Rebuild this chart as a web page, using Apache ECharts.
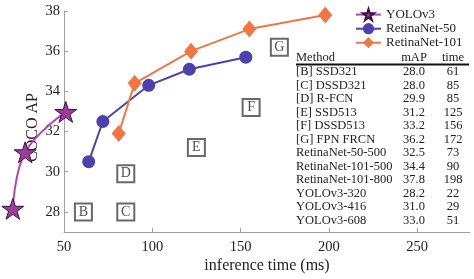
<!DOCTYPE html>
<html>
<head>
<meta charset="utf-8">
<script src="https://cdn.jsdelivr.net/npm/echarts@6/dist/echarts.min.js"></script>
<style>
  html, body {margin: 0; padding: 0; background: #fff;}
  #chart {width: 474px; height: 279px;}
</style>
</head>
<body>
<div id="chart"></div>
<script>
  // curves (inference time ms, COCO AP)
  let yoloTime = [21, 28, 51]
  let yoloAP = [28.2, 31.0, 33.0]
  let rn50Time = [64, 72, 98, 121, 153]
  let rn50AP = [30.5, 32.5, 34.3, 35.1, 35.7]
  let rn101Time = [81, 90, 122, 155, 198]
  let rn101AP = [31.9, 34.4, 36.0, 37.1, 37.8]

  // table on the right, first six rows also drawn as lettered boxes
  let methodNames = ['[B] SSD321', '[C] DSSD321', '[D] R-FCN', '[E] SSD513', '[F] DSSD513', '[G] FPN FRCN',
    'RetinaNet-50-500', 'RetinaNet-101-500', 'RetinaNet-101-800', 'YOLOv3-320', 'YOLOv3-416', 'YOLOv3-608']
  let methodAP = ['28.0', '28.0', '29.9', '31.2', '33.2', '36.2', '32.5', '34.4', '37.8', '28.2', '31.0', '33.0']
  let methodTime = ['61', '85', '85', '125', '156', '172', '73', '90', '198', '22', '29', '51']
  let boxCount = 6

  let xTicks = [50, 100, 150, 200, 250]
  let yTicks = [28, 30, 32, 34, 36, 38]

  let serif = "'Liberation Serif', 'Times New Roman', serif"
  let starPath = 'path://M50 0 L61.23 34.55 L97.55 34.55 L68.17 55.9 L79.39 90.45 L50 69.1 L20.61 90.45 L31.83 55.9 L2.45 34.55 L38.77 34.55 Z'

  function pairs(xs, ys) {
    return xs.map((x, i) => [x, ys[i]])
  }

  let boxData = []
  for (let i = 0; i < boxCount; i++) {
    boxData.push({
      value: [Number(methodTime[i]), Number(methodAP[i])],
      letter: methodNames[i].charAt(1)
    })
  }

  // table texts
  let tableGraphics = []
  let colMethod = 296, colAP = 414, colTime = 453
  let headY = 58, rowY = 72, rowStep = 13.5
  let headStyle = {fontSize: 12.5, fontFamily: serif, fill: '#222', verticalAlign: 'middle'}
  tableGraphics.push({type: 'text', x: colMethod, y: headY, style: Object.assign({text: 'Method', align: 'left'}, headStyle)})
  tableGraphics.push({type: 'text', x: colAP, y: headY, style: Object.assign({text: 'mAP', align: 'center'}, headStyle)})
  tableGraphics.push({type: 'text', x: colTime, y: headY, style: Object.assign({text: 'time', align: 'center'}, headStyle)})
  tableGraphics.push({
    type: 'line',
    shape: {x1: colMethod, y1: headY + 6.5, x2: 469, y2: headY + 6.5},
    style: {stroke: '#111', lineWidth: 2}
  })
  methodNames.forEach((name, i) => {
    let y = rowY + i * rowStep
    tableGraphics.push({type: 'text', x: colMethod, y: y, style: Object.assign({text: name, align: 'left'}, headStyle)})
    tableGraphics.push({type: 'text', x: colAP, y: y, style: Object.assign({text: methodAP[i], align: 'center'}, headStyle)})
    tableGraphics.push({type: 'text', x: colTime, y: y, style: Object.assign({text: methodTime[i], align: 'center'}, headStyle)})
  })

  // the YOLOv3 points lie left of the y axis (x < 50), so they get a second,
  // hidden grid reaching the left edge with the same ms-per-pixel scale
  let chartW = 474
  let gridLeft = 64, gridRight = 4, gridTop = 11, gridBottom = 46
  let xMin = 50, xMax = 280
  let msPerPx = (xMax - xMin) / (chartW - gridLeft - gridRight)
  let xMinWide = xMin - gridLeft * msPerPx

  let chart = echarts.init(document.getElementById('chart'))
  let axisGray = '#a0a0a0'
  let option = {
    animation: false,
    grid: [
      {left: gridLeft, right: gridRight, top: gridTop, bottom: gridBottom},
      {left: 0, right: gridRight, top: gridTop, bottom: gridBottom}
    ],
    legend: {
      orient: 'vertical',
      left: 350,
      top: 3,
      itemWidth: 25,
      itemHeight: 14,
      itemGap: 1,
      data: ['YOLOv3', 'RetinaNet-50', 'RetinaNet-101'],
      textStyle: {fontSize: 13, fontFamily: serif, color: '#222'}
    },
    xAxis: [
      {
        type: 'value',
        gridIndex: 0,
        min: xMin,
        max: xMax,
        name: 'inference time (ms)',
        nameLocation: 'middle',
        nameGap: 26,
        nameMoveOverlap: false,
        nameTextStyle: {fontSize: 16, fontFamily: serif, color: '#222'},
        axisLine: {lineStyle: {color: axisGray}},
        axisTick: {inside: true, length: 4, customValues: xTicks, lineStyle: {color: axisGray}},
        axisLabel: {customValues: xTicks, margin: 8, fontSize: 14.5, fontFamily: serif, color: '#222'},
        splitLine: {show: false}
      },
      {
        type: 'value',
        gridIndex: 1,
        min: xMinWide,
        max: xMax,
        show: false
      }
    ],
    yAxis: [
      {
        type: 'value',
        gridIndex: 0,
        min: 27,
        max: 38,
        name: 'COCO AP',
        nameLocation: 'middle',
        nameGap: 23,
        nameMoveOverlap: false,
        nameTextStyle: {fontSize: 16, fontFamily: serif, color: '#222', padding: [0, 12, 0, 0]},
        axisLine: {show: true, lineStyle: {color: axisGray}},
        axisTick: {show: true, inside: true, length: 4, customValues: yTicks, lineStyle: {color: axisGray}},
        axisLabel: {customValues: yTicks, margin: 4, fontSize: 14.5, fontFamily: serif, color: '#222'},
        splitLine: {show: false}
      },
      {
        type: 'value',
        gridIndex: 1,
        min: 27,
        max: 38,
        show: false
      }
    ],
    series: [
      {
        name: 'YOLOv3',
        type: 'line',
        xAxisIndex: 1,
        yAxisIndex: 1,
        smooth: 0.4,
        symbol: starPath,
        symbolSize: 22,
        symbolKeepAspect: true,
        z: 5,
        lineStyle: {color: '#b347b3', width: 2},
        itemStyle: {color: '#993d9b', borderColor: '#3a123c', borderWidth: 1},
        data: pairs(yoloTime, yoloAP)
      },
      {
        name: 'RetinaNet-50',
        type: 'line',
        symbol: 'circle',
        symbolSize: 13,
        lineStyle: {color: '#4b42ad', width: 2},
        itemStyle: {color: '#4b42ad'},
        data: pairs(rn50Time, rn50AP)
      },
      {
        name: 'RetinaNet-101',
        type: 'line',
        symbol: 'diamond',
        symbolSize: [14, 17],
        lineStyle: {color: '#f07644', width: 2},
        itemStyle: {color: '#f07644'},
        data: pairs(rn101Time, rn101AP)
      },
      {
        name: 'methods',
        type: 'scatter',
        symbol: 'rect',
        symbolSize: 17,
        itemStyle: {color: '#fff', borderColor: '#444', borderWidth: 2},
        label: {
          show: true,
          position: 'inside',
          formatter: p => p.data.letter,
          fontSize: 14,
          fontFamily: serif,
          color: '#222'
        },
        data: boxData
      }
    ],
    graphic: tableGraphics
  }
  chart.setOption(option)
</script>
</body>
</html>
